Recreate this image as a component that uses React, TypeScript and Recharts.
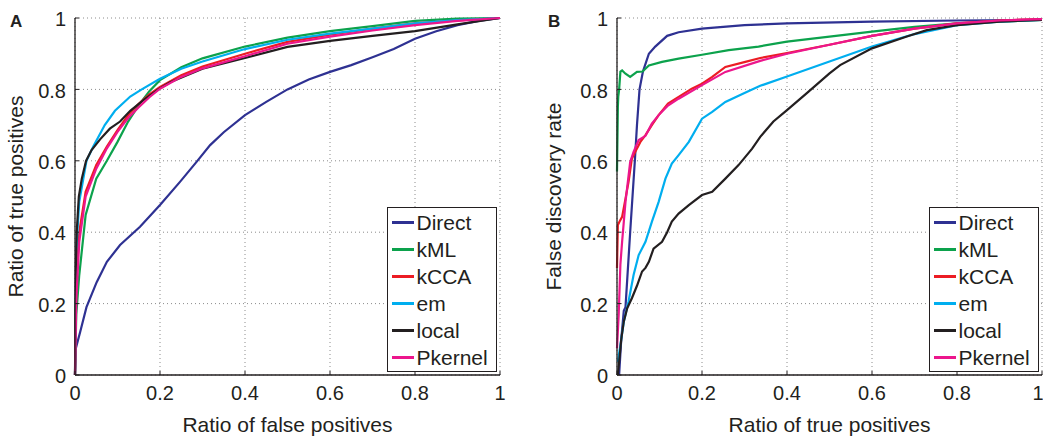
import { LineChart, Line, XAxis, YAxis, CartesianGrid, Legend } from "recharts";

type Pt = [number, number];

const seriesNames = ["Direct", "kML", "kCCA", "em", "local", "Pkernel"];
const seriesColors = ["#2e3192", "#0ca24c", "#ec1c24", "#00aeef", "#231f20", "#ec168c"];
const axisTicks = [0, 0.2, 0.4, 0.6, 0.8, 1];

// Panel A: ratio of false positives (x) vs ratio of true positives (y)
const directA: Pt[] = [
  [0, 0], [0.002, 0.075], [0.012, 0.12], [0.027, 0.19], [0.051, 0.26], [0.075, 0.317],
  [0.106, 0.364], [0.153, 0.415], [0.2, 0.476], [0.247, 0.541], [0.286, 0.597], [0.318, 0.644],
  [0.35, 0.68], [0.4, 0.728], [0.45, 0.765], [0.5, 0.8], [0.55, 0.828], [0.6, 0.849],
  [0.65, 0.868], [0.7, 0.89], [0.75, 0.913], [0.8, 0.942], [0.85, 0.963], [0.9, 0.98],
  [0.95, 0.992], [1, 1],
];
const kmlA: Pt[] = [
  [0, 0], [0.003, 0.17], [0.01, 0.28], [0.025, 0.448], [0.05, 0.55], [0.075, 0.6],
  [0.1, 0.653], [0.125, 0.71], [0.15, 0.756], [0.175, 0.795], [0.2, 0.826], [0.25, 0.862],
  [0.3, 0.887], [0.4, 0.92], [0.5, 0.945], [0.6, 0.963], [0.7, 0.977], [0.8, 0.992],
  [0.9, 0.998], [1, 1],
];
const kccaA: Pt[] = [
  [0, 0], [0.003, 0.26], [0.01, 0.4], [0.025, 0.513], [0.05, 0.588], [0.075, 0.64],
  [0.1, 0.686], [0.125, 0.728], [0.15, 0.76], [0.175, 0.786], [0.2, 0.807], [0.25, 0.84],
  [0.3, 0.864], [0.4, 0.9], [0.5, 0.933], [0.6, 0.953], [0.7, 0.97], [0.8, 0.985],
  [0.9, 0.993], [1, 1],
];
const emA: Pt[] = [
  [0, 0], [0.003, 0.35], [0.01, 0.485], [0.027, 0.6], [0.043, 0.64], [0.07, 0.7],
  [0.094, 0.74], [0.13, 0.78], [0.157, 0.8], [0.2, 0.83], [0.25, 0.858], [0.3, 0.878],
  [0.4, 0.913], [0.5, 0.939], [0.6, 0.956], [0.7, 0.97], [0.8, 0.985], [0.9, 0.994], [1, 1],
];
const localA: Pt[] = [
  [0, 0], [0.002, 0.3], [0.004, 0.4], [0.009, 0.5], [0.016, 0.55], [0.026, 0.6],
  [0.039, 0.63], [0.059, 0.66], [0.082, 0.69], [0.106, 0.71], [0.13, 0.74], [0.161, 0.77],
  [0.196, 0.8], [0.224, 0.82], [0.3, 0.858], [0.4, 0.888], [0.5, 0.919], [0.6, 0.936],
  [0.7, 0.95], [0.8, 0.963], [0.9, 0.982], [1, 1],
];
const pkernelA: Pt[] = [
  [0, 0], [0.003, 0.21], [0.01, 0.373], [0.025, 0.5], [0.05, 0.578], [0.075, 0.635],
  [0.1, 0.681], [0.125, 0.72], [0.15, 0.75], [0.175, 0.778], [0.2, 0.802], [0.25, 0.835],
  [0.3, 0.859], [0.4, 0.893], [0.5, 0.928], [0.6, 0.948], [0.7, 0.965], [0.8, 0.98],
  [0.9, 0.992], [1, 1],
];

// Panel B: ratio of true positives (x) vs false discovery rate (y)
const directB: Pt[] = [
  [0.005, 0], [0.01, 0.1], [0.016, 0.18], [0.02, 0.19], [0.031, 0.4], [0.042, 0.6],
  [0.047, 0.7], [0.053, 0.8], [0.061, 0.85], [0.075, 0.9], [0.09, 0.92], [0.118, 0.95],
  [0.145, 0.96], [0.2, 0.97], [0.3, 0.98], [0.4, 0.985], [0.6, 0.99], [0.8, 0.993], [1, 0.995],
];
const kmlB: Pt[] = [
  [0, 0.57], [0.002, 0.75], [0.003, 0.78], [0.005, 0.8], [0.008, 0.85], [0.012, 0.853],
  [0.02, 0.844], [0.031, 0.835], [0.047, 0.849], [0.06, 0.85], [0.075, 0.867], [0.106, 0.877],
  [0.145, 0.886], [0.2, 0.897], [0.263, 0.91], [0.333, 0.92], [0.4, 0.934], [0.5, 0.948],
  [0.6, 0.962], [0.7, 0.975], [0.8, 0.985], [0.9, 0.99], [1, 0.995],
];
const kccaB: Pt[] = [
  [0, 0.3], [0.002, 0.42], [0.006, 0.43], [0.012, 0.443], [0.02, 0.494], [0.027, 0.54],
  [0.035, 0.606], [0.043, 0.625], [0.055, 0.653], [0.067, 0.672], [0.082, 0.7], [0.098, 0.728],
  [0.12, 0.76], [0.145, 0.779], [0.176, 0.802], [0.2, 0.816], [0.224, 0.835], [0.255, 0.863],
  [0.302, 0.877], [0.337, 0.888], [0.4, 0.902], [0.5, 0.925], [0.6, 0.95], [0.7, 0.97],
  [0.8, 0.985], [0.9, 0.993], [1, 0.997],
];
const emB: Pt[] = [
  [0.002, 0.037], [0.008, 0.084], [0.016, 0.149], [0.027, 0.205], [0.039, 0.28], [0.051, 0.336],
  [0.067, 0.373], [0.082, 0.429], [0.098, 0.485], [0.114, 0.55], [0.129, 0.592], [0.145, 0.616],
  [0.169, 0.653], [0.2, 0.718], [0.224, 0.737], [0.255, 0.765], [0.3, 0.79], [0.337, 0.81],
  [0.4, 0.836], [0.5, 0.878], [0.6, 0.92], [0.7, 0.955], [0.8, 0.98], [0.9, 0.99], [1, 0.995],
];
const localB: Pt[] = [
  [0.002, 0], [0.005, 0.037], [0.01, 0.1], [0.016, 0.15], [0.024, 0.187], [0.035, 0.215],
  [0.047, 0.25], [0.059, 0.29], [0.067, 0.3], [0.075, 0.317], [0.086, 0.354], [0.106, 0.373],
  [0.118, 0.4], [0.129, 0.43], [0.145, 0.452], [0.169, 0.476], [0.2, 0.504], [0.224, 0.513],
  [0.255, 0.55], [0.286, 0.588], [0.318, 0.634], [0.337, 0.667], [0.368, 0.71], [0.4, 0.742],
  [0.446, 0.789], [0.5, 0.845], [0.525, 0.868], [0.6, 0.915], [0.682, 0.948], [0.729, 0.966],
  [0.8, 0.98], [0.9, 0.99], [1, 0.995],
];
const pkernelB: Pt[] = [
  [0, 0.075], [0.004, 0.17], [0.008, 0.31], [0.012, 0.373], [0.02, 0.485], [0.031, 0.597],
  [0.039, 0.625], [0.051, 0.658], [0.067, 0.67], [0.082, 0.704], [0.098, 0.728], [0.12, 0.755],
  [0.145, 0.774], [0.2, 0.812], [0.255, 0.849], [0.337, 0.88], [0.4, 0.9], [0.5, 0.925],
  [0.6, 0.95], [0.7, 0.97], [0.8, 0.985], [0.9, 0.993], [1, 0.997],
];

const panelA = [directA, kmlA, kccaA, emA, localA, pkernelA];
const panelB = [directB, kmlB, kccaB, emB, localB, pkernelB];

const toPoints = (arr: Pt[]) => arr.map(([x, y]) => ({ x, y }));

const FONT = "'Liberation Sans', Arial, Helvetica, sans-serif";
const INK = "#231f20";
// matlab-style ticks point into the plot
const TICK_IN = 4;

const LegendBox = () => (
  <div
    style={{
      width: 110,
      height: 165,
      boxSizing: "border-box",
      border: `1.6px solid ${INK}`,
      background: "#fff",
      paddingTop: 1,
    }}
  >
    {seriesNames.map((name, i) => (
      <div key={name} style={{ display: "flex", alignItems: "center", height: 27 }}>
        <span
          style={{
            display: "inline-block",
            width: 22,
            height: 2.6,
            marginLeft: 3.5,
            marginRight: 3,
            background: seriesColors[i],
          }}
        />
        <span style={{ fontSize: 21, color: INK, fontFamily: FONT, lineHeight: "27px" }}>{name}</span>
      </div>
    ))}
  </div>
);

interface PanelProps {
  series: Pt[][];
  width: number;
  yAxisWidth: number;
  rightMargin: number;
  xTitle: string;
  yTitle: string;
  yTitleOffset: number;
  yTickGap: number;
  legendLeft: number;
}

const Panel = ({
  series,
  width,
  yAxisWidth,
  rightMargin,
  xTitle,
  yTitle,
  yTitleOffset,
  yTickGap,
  legendLeft,
}: PanelProps) => (
  <LineChart
    width={width}
    height={438}
    margin={{ top: 18, right: rightMargin, bottom: 0, left: 0 }}
    style={{ fontFamily: FONT }}
  >
    <CartesianGrid stroke="#8c8c8c" strokeDasharray="1 3" strokeWidth={1} />
    <XAxis
      type="number"
      dataKey="x"
      domain={[0, 1]}
      ticks={axisTicks}
      tickFormatter={(v) => String(v)}
      height={63}
      tickLine={{ stroke: INK, strokeWidth: 1 }}
      tickSize={-TICK_IN}
      tickMargin={11 + TICK_IN}
      axisLine={{ stroke: INK, strokeWidth: 1.3 }}
      tick={{ fill: INK, fontSize: 20 }}
      label={{ value: xTitle, position: "insideBottom", offset: 6, fill: INK, fontSize: 21 }}
    />
    <YAxis
      type="number"
      domain={[0, 1]}
      ticks={axisTicks}
      tickFormatter={(v) => String(v)}
      width={yAxisWidth}
      tickLine={{ stroke: INK, strokeWidth: 1 }}
      tickSize={-TICK_IN}
      tickMargin={yTickGap + TICK_IN}
      axisLine={{ stroke: INK, strokeWidth: 1.3 }}
      tick={{ fill: INK, fontSize: 20, dy: 1 }}
      label={{
        value: yTitle,
        angle: -90,
        position: "insideLeft",
        offset: yTitleOffset,
        fill: INK,
        fontSize: 21,
        style: { textAnchor: "middle" },
      }}
    />
    {series.map((pts, i) => (
      <Line
        key={seriesNames[i]}
        data={toPoints(pts)}
        dataKey="y"
        name={seriesNames[i]}
        type="linear"
        stroke={seriesColors[i]}
        strokeWidth={2.2}
        dot={false}
        activeDot={false}
        isAnimationActive={false}
      />
    ))}
    <Legend
      layout="vertical"
      align="center"
      verticalAlign="middle"
      content={() => <LegendBox />}
      wrapperStyle={{ left: legendLeft, top: 207, width: 110 }}
    />
  </LineChart>
);

const letterStyle: React.CSSProperties = {
  position: "absolute",
  top: 13,
  fontFamily: FONT,
  fontWeight: 700,
  fontSize: 17,
  lineHeight: 1,
  color: INK,
};

export default function App() {
  return (
    <div style={{ position: "absolute", left: 0, top: 0, width: 1043, height: 438, background: "#fff" }}>
      <div style={{ position: "absolute", left: 0, top: 0 }}>
        <Panel
          series={panelA}
          width={520}
          yAxisWidth={75}
          rightMargin={20}
          xTitle="Ratio of false positives"
          yTitle="Ratio of true positives"
          yTitleOffset={16}
          yTickGap={9}
          legendLeft={387}
        />
      </div>
      <div style={{ position: "absolute", left: 520, top: 0 }}>
        <Panel
          series={panelB}
          width={523}
          yAxisWidth={97}
          rightMargin={1}
          xTitle="Ratio of true positives"
          yTitle="False discovery rate"
          yTitleOffset={34}
          yTickGap={9}
          legendLeft={409}
        />
      </div>
      <div style={{ ...letterStyle, left: 10 }}>A</div>
      <div style={{ ...letterStyle, left: 548 }}>B</div>
    </div>
  );
}
